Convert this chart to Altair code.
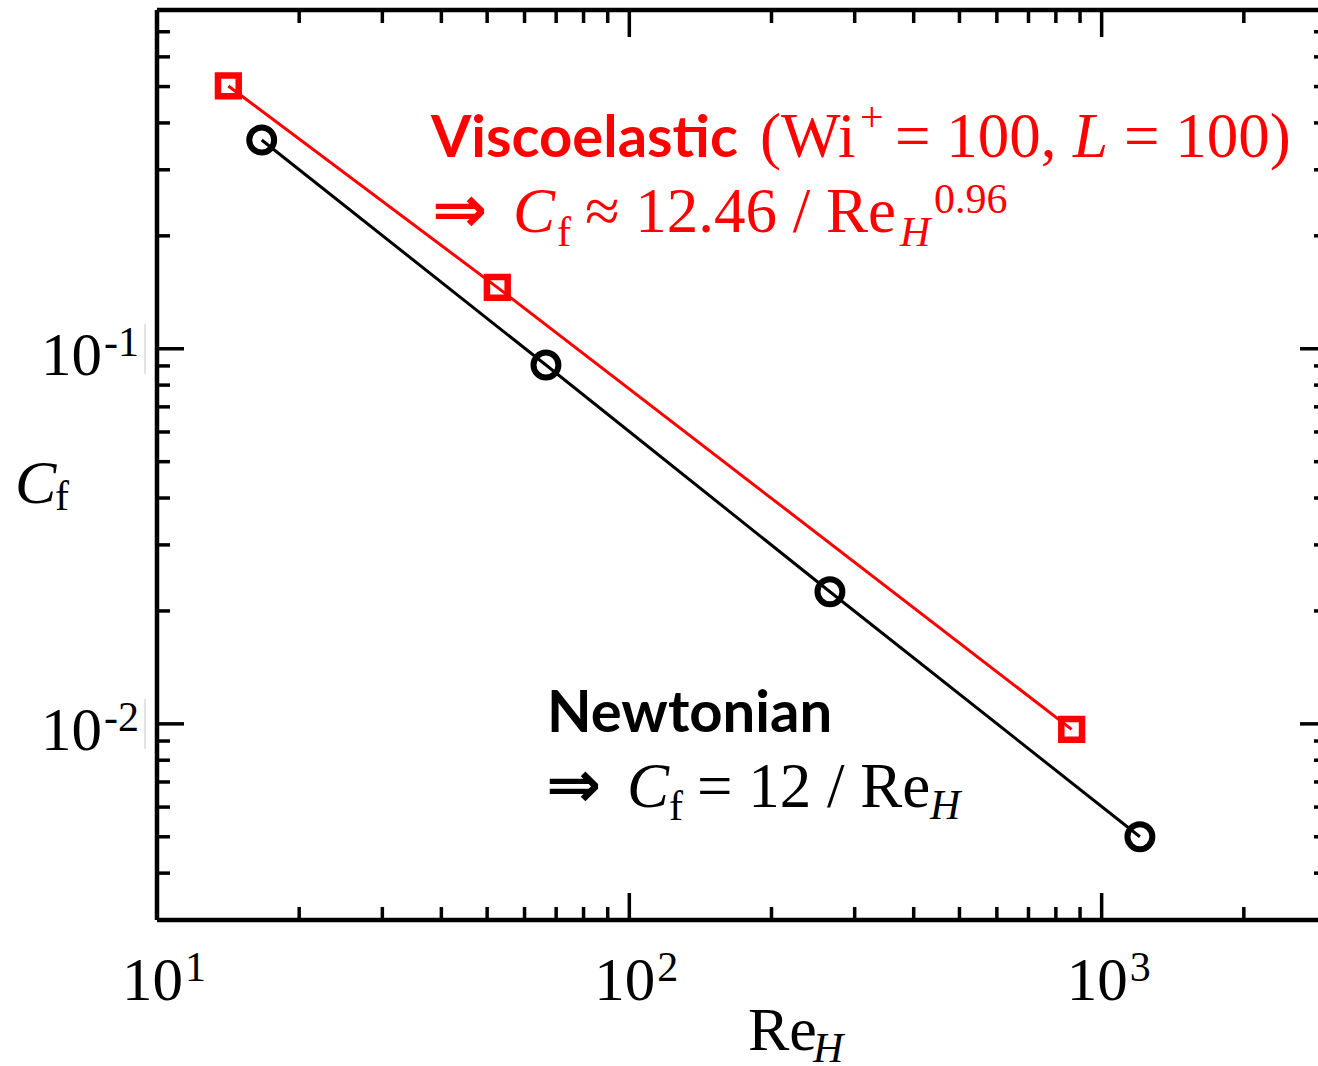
import altair as alt
import pandas as pd

# ---------------- data ----------------
newt_re = [16.66, 66.6, 265.9, 1205.0]
newt_cf = [0.3601, 0.0905, 0.0225, 0.00500]
visc_re = [14.16, 52.54, 864.0]
visc_cf = [0.5018, 0.1458, 0.00967]

x_major = [10, 100, 1000]
x_major_exp = ["1", "2", "3"]
x_minor = [20, 30, 40, 50, 60, 70, 80, 90, 200, 300, 400, 500, 600, 700, 800, 900, 2000]
y_major = [0.1, 0.01]
y_major_exp = ["-1", "-2"]
y_minor = [0.004, 0.005, 0.006, 0.007, 0.008, 0.009,
           0.02, 0.03, 0.04, 0.05, 0.06, 0.07, 0.08, 0.09,
           0.2, 0.3, 0.4, 0.5, 0.6, 0.7]

# ---------------- layout / style ----------------
RED = "#ff0000"
SERIF = "Liberation Serif"
SANS = "Lato"
ARROW = "DejaVu Sans"
PL, PT = 157, 10          # plot origin in page pixels
W, H = 1161, 910          # view size
XR = 1170                 # x range extent (right frame lies just beyond the page)
MAJ, MIN = 27, 13

XS = alt.Scale(type="log", domain=[10, 3000], range=[0, XR], nice=False)
YS = alt.Scale(type="log", domain=[0.003, 0.8], nice=False)


def X(f):
    return alt.X(f, scale=XS, axis=None)


def Y(f):
    return alt.Y(f, scale=YS, axis=None)


layers = []

# frame
one = pd.DataFrame({"k": [0]})
frame_kw = dict(color="black", strokeWidth=4.5)
layers.append(alt.Chart(one).mark_rule(**frame_kw).encode(x=alt.value(0), x2=alt.value(XR), y=alt.value(0)))
layers.append(alt.Chart(one).mark_rule(**frame_kw).encode(x=alt.value(0), x2=alt.value(XR), y=alt.value(H)))
layers.append(alt.Chart(one).mark_rule(**frame_kw).encode(x=alt.value(0), y=alt.value(0), y2=alt.value(H)))
layers.append(alt.Chart(one).mark_rule(**frame_kw).encode(x=alt.value(XR), y=alt.value(0), y2=alt.value(H)))


def xticks(vals, ln):
    df = pd.DataFrame({"v": vals})
    top = alt.Chart(df).mark_rule(color="black", strokeWidth=3.5).encode(
        x=X("v:Q"), y=alt.value(0), y2=alt.value(ln))
    bot = alt.Chart(df).mark_rule(color="black", strokeWidth=3.5).encode(
        x=X("v:Q"), y=alt.value(H), y2=alt.value(H - ln))
    return [top, bot]


def yticks(vals, ln):
    df = pd.DataFrame({"v": vals})
    left = alt.Chart(df).mark_rule(color="black", strokeWidth=3.5).encode(
        y=Y("v:Q"), x=alt.value(0), x2=alt.value(ln))
    right = alt.Chart(df).mark_rule(color="black", strokeWidth=3.5).encode(
        y=Y("v:Q"), x=alt.value(XR), x2=alt.value(XR - ln))
    return [left, right]


layers += xticks(x_major, MAJ) + xticks(x_minor, MIN)
layers += yticks(y_major, MAJ) + yticks(y_minor, MIN)

# tick labels
xl = pd.DataFrame({"v": x_major, "e": x_major_exp})
layers.append(alt.Chart(xl).mark_text(align="right", baseline="alphabetic", font=SERIF,
                                      fontSize=61, dx=26, color="black").encode(
    x=X("v:Q"), y=alt.value(1000 - PT), text=alt.value("10")))
layers.append(alt.Chart(xl).mark_text(align="left", baseline="alphabetic", font=SERIF,
                                      fontSize=42, dx=28, color="black").encode(
    x=X("v:Q"), y=alt.value(981 - PT), text="e:N"))

yl = pd.DataFrame({"v": y_major, "e": y_major_exp})
layers.append(alt.Chart(yl).mark_text(align="right", baseline="alphabetic", font=SERIF,
                                      fontSize=61, dy=26, color="black").encode(
    y=Y("v:Q"), x=alt.value(102 - PL), text=alt.value("10")))
layers.append(alt.Chart(yl).mark_text(align="left", baseline="alphabetic", font=SERIF,
                                      fontSize=42, dy=7, color="black").encode(
    y=Y("v:Q"), x=alt.value(104 - PL), text="e:N"))
# faint text-box edge seen right of the y tick labels
layers.append(alt.Chart(yl).transform_calculate(
    lo="datum.v / 1.166", hi="datum.v * 1.166").mark_rule(
    color="#c8c8c8", strokeWidth=1).encode(
    y=Y("lo:Q"), y2="hi:Q", x=alt.value(145 - PL)))

# data lines and markers
newt = pd.DataFrame({"re": newt_re, "cf": newt_cf})
visc = pd.DataFrame({"re": visc_re, "cf": visc_cf})
layers.append(alt.Chart(newt).mark_line(color="black", strokeWidth=3).encode(x=X("re:Q"), y=Y("cf:Q")))
layers.append(alt.Chart(visc).mark_line(color=RED, strokeWidth=3).encode(x=X("re:Q"), y=Y("cf:Q")))
layers.append(alt.Chart(newt).mark_point(shape="circle", filled=False, size=620, strokeWidth=6,
                                         color="black", opacity=1).encode(x=X("re:Q"), y=Y("cf:Q")))
layers.append(alt.Chart(visc).mark_point(shape="square", filled=False, size=430, strokeWidth=6.5,
                                         color=RED, opacity=1).encode(x=X("re:Q"), y=Y("cf:Q")))

# annotation / title text pieces: (text, x, y, size, font, italic, bold, color)
pieces = [
    ("Viscoelastic", 431, 157, 58, SANS, False, True, RED),
    ("(Wi", 760, 157, 63, SERIF, False, False, RED),
    ("+", 860, 131, 42, SERIF, False, False, RED),
    ("= 100,", 895, 157, 63, SERIF, False, False, RED),
    ("L", 1073, 157, 63, SERIF, True, False, RED),
    ("= 100)", 1124, 157, 63, SERIF, False, False, RED),
    ("\u21d2", 432, 232, 66, ARROW, False, True, RED),
    ("C", 513, 232, 63, SERIF, True, False, RED),
    ("f", 557, 246, 42, SERIF, False, False, RED),
    ("\u2248 12.46 / Re", 585, 232, 63, SERIF, False, False, RED),
    ("H", 900, 246, 42, SERIF, True, False, RED),
    ("0.96", 934, 213, 42, SERIF, False, False, RED),
    ("Newtonian", 547, 732, 58, SANS, False, True, "black"),
    ("\u21d2", 546, 807, 66, ARROW, False, True, "black"),
    ("C", 627, 807, 63, SERIF, True, False, "black"),
    ("f", 669, 820, 42, SERIF, False, False, "black"),
    ("= 12 / Re", 697, 807, 63, SERIF, False, False, "black"),
    ("H", 930, 819, 42, SERIF, True, False, "black"),
    ("C", 15, 503, 62, SERIF, True, False, "black"),
    ("f", 55, 510, 42, SERIF, False, False, "black"),
    ("Re", 748, 1050, 62, SERIF, False, False, "black"),
    ("H", 813, 1062, 42, SERIF, True, False, "black"),
]

for t, px, py, fs, font, ital, bold, col in pieces:
    kw = dict(align="left", baseline="alphabetic", font=font, fontSize=fs, color=col)
    if ital:
        kw["fontStyle"] = "italic"
    if bold:
        kw["fontWeight"] = "bold"
    layers.append(alt.Chart(pd.DataFrame({"t": [t]})).mark_text(**kw).encode(
        x=alt.value(px - PL), y=alt.value(py - PT), text="t:N"))

chart = alt.layer(*layers).properties(
    width=W, height=H,
    autosize=alt.AutoSizeParams(type="none"),
    padding={"left": PL, "top": PT, "right": 0, "bottom": 1066 - PT - H},
    background="white",
).configure_view(stroke=None)

chart.save("out.html", embed_options={"renderer": "svg", "actions": False})
